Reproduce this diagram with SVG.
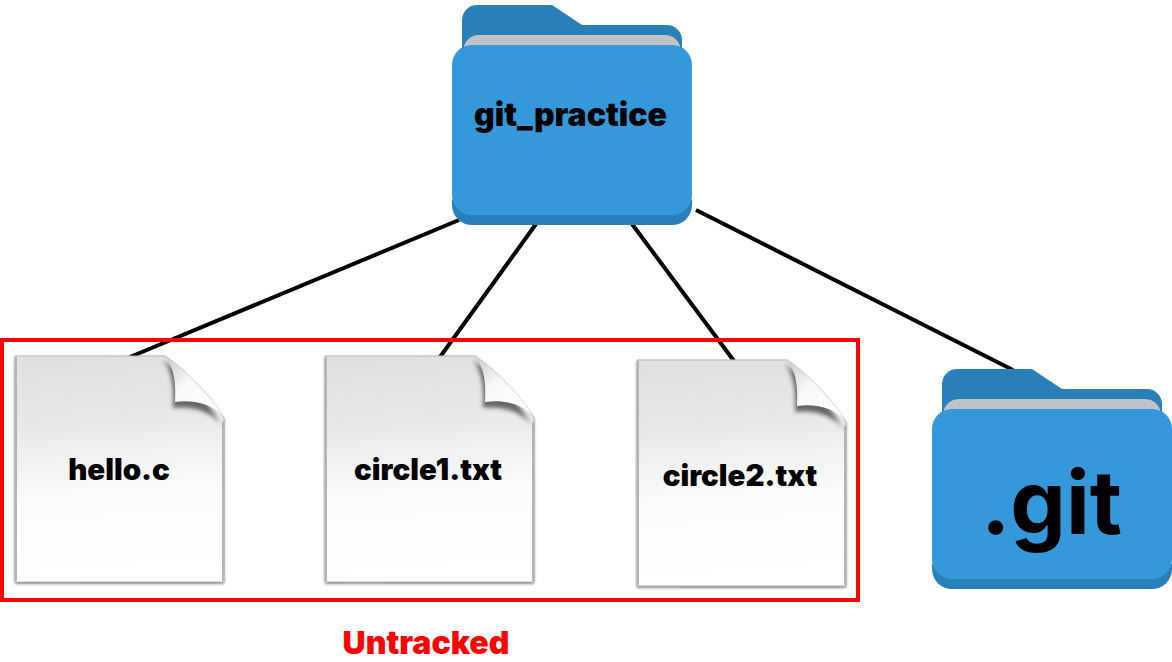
<svg xmlns="http://www.w3.org/2000/svg" xmlns:xlink="http://www.w3.org/1999/xlink" width="1172" height="662" viewBox="0 0 1172 662">
<style>
.lbl{font-family:Inter,"Liberation Sans",sans-serif;font-weight:900;fill:#000;text-anchor:middle}
.con{stroke:#000;stroke-width:4;fill:none}
.fback{fill:#2980b9}.fgray{fill:#bdc3c7}.ffront{fill:#3498db}
.edge{stroke:#b4b4b4;stroke-width:2;fill:none}
</style>
<defs>
<linearGradient id="page" x1="0.42" y1="0" x2="0.5" y2="1">
<stop offset="0" stop-color="#e0e0e0"/><stop offset="0.3" stop-color="#e9e9e9"/><stop offset="0.62" stop-color="#fcfcfc"/><stop offset="1" stop-color="#fff"/>
</linearGradient>
<linearGradient id="curl" x1="0" y1="0" x2="1" y2="1">
<stop offset="0" stop-color="#c8c8c8"/><stop offset="0.4" stop-color="#f8f8f8"/><stop offset="1" stop-color="#fff"/>
</linearGradient>
<filter id="sh" x="-5%" y="-5%" width="110%" height="110%"><feGaussianBlur stdDeviation="1.8"/></filter>
<filter id="sh2" x="-30%" y="-30%" width="160%" height="160%"><feGaussianBlur stdDeviation="2.2"/></filter>
<g id="folder">
<path class="fback" d="M10 60V20A15 15 0 0 1 25 5H100L130 25H215A15 15 0 0 1 230 40V60Z"/>
<path class="fgray" d="M12 46L12 50H228V46A15 15 0 0 0 213 35H27A15 15 0 0 0 12 46Z"/>
<path class="fback" d="M0 200V205A20 20 0 0 0 20 225H220A20 20 0 0 0 240 205V200Z"/>
<path class="ffront" d="M20 45H220A20 20 0 0 1 240 65V195A20 20 0 0 1 220 215H20A20 20 0 0 1 0 195V65A20 20 0 0 1 20 45Z"/>
</g>
<g id="file">
<path d="M0 0H150C170 14 192 36 209 62V226H0Z" fill="#666" filter="url(#sh)" transform="translate(0 1.5)"/>
<path d="M0 0H150C170 14 192 36 209 62V226H0Z" fill="url(#page)" stroke="#b8b8b8" stroke-width="1"/>
<path class="edge" d="M1 1V225M208 66V225"/>
<path d="M160 48C178 46 198 50 209 66C192 36 170 14 150 0C160 12 161 30 160 48Z" fill="#444" filter="url(#sh2)" transform="translate(-2 4)" opacity="0.8"/>
<path d="M160 46C178 43 198 48 208 60C192 36 170 14 150 0C160 12 161 30 160 46Z" fill="url(#curl)"/>
</g>
</defs>
<g id="connectors">
<line class="con" x1="459" y1="220" x2="130" y2="357"/>
<line class="con" x1="536" y1="224" x2="440" y2="357"/>
<line class="con" x1="632" y1="224" x2="734" y2="361"/>
<line class="con" x1="696" y1="210" x2="1013" y2="370"/>
</g>
<g id="node-git-practice"><use href="#folder" x="452" y="0"/><text class="lbl" x="570.500" y="126" font-size="32">git_practice</text></g>
<g id="node-git"><use href="#folder" x="932" y="364"/><text class="lbl" x="1051.500" y="534" font-size="88" style="font-weight:700">.git</text></g>
<g id="node-hello"><use href="#file" x="15" y="356"/><text class="lbl" x="119" y="480" font-size="29.500">hello.c</text></g>
<g id="node-circle1"><use href="#file" x="325" y="356"/><text class="lbl" x="428" y="480" font-size="29.500">circle1.txt</text></g>
<g id="node-circle2"><use href="#file" x="637" y="360"/><text class="lbl" x="740" y="486" font-size="29.500">circle2.txt</text></g>
<g id="untracked"><rect x="2" y="340" width="856" height="260" fill="none" stroke="#ff0000" stroke-width="4"/><text class="lbl" x="426" y="653.500" font-size="32" style="fill:#ff0000">Untracked</text></g>
</svg>
